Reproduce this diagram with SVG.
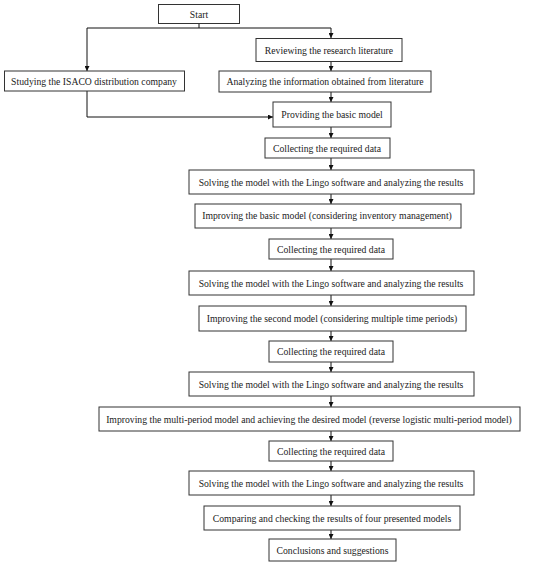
<svg xmlns="http://www.w3.org/2000/svg" width="550" height="564" viewBox="0 0 550 564">
<defs>
<style>
.box{fill:#fff;stroke:#333;stroke-width:1}
.t{font-family:"Liberation Serif","Times New Roman",serif;font-size:9.7px;fill:#222;text-anchor:middle;dominant-baseline:central}
.c{fill:none;stroke:#111;stroke-width:1}
</style>
<marker id="ah" markerUnits="userSpaceOnUse" markerWidth="5" markerHeight="5" viewBox="0 0 10 10" refX="10" refY="5" orient="auto">
<path d="M0,0 L10,5 L0,10 z" fill="#111"/>
</marker>
</defs>
<rect width="550" height="564" fill="#fff"/>
<g id="connectors">
<path class="c" d="M199,23 V28 M87,28 H331"/>
<path class="c" d="M87,28 V71" marker-end="url(#ah)"/>
<path class="c" d="M331,28 V38" marker-end="url(#ah)"/>
<path class="c" d="M331,61 V71" marker-end="url(#ah)"/>
<path class="c" d="M331,92 V102" marker-end="url(#ah)"/>
<path class="c" d="M87,91 V117 H273" marker-end="url(#ah)"/>
<path class="c" d="M331,127 V138" marker-end="url(#ah)"/>
<path class="c" d="M331,158 V170" marker-end="url(#ah)"/>
<path class="c" d="M331,194 V204" marker-end="url(#ah)"/>
<path class="c" d="M331,228 V239" marker-end="url(#ah)"/>
<path class="c" d="M331,259 V271" marker-end="url(#ah)"/>
<path class="c" d="M331,295 V306" marker-end="url(#ah)"/>
<path class="c" d="M331,331 V341" marker-end="url(#ah)"/>
<path class="c" d="M331,362 V372" marker-end="url(#ah)"/>
<path class="c" d="M331,396 V407" marker-end="url(#ah)"/>
<path class="c" d="M331,431 V441" marker-end="url(#ah)"/>
<path class="c" d="M331,461 V471" marker-end="url(#ah)"/>
<path class="c" d="M331,495 V506" marker-end="url(#ah)"/>
<path class="c" d="M331,530 V539" marker-end="url(#ah)"/>
</g>
<g id="start"><rect class="box" x="158.5" y="4.5" width="81" height="19"/><text class="t" x="199" y="14">Start</text></g>
<g id="reviewing"><rect class="box" x="256" y="38.5" width="146" height="23"/><text class="t" x="329" y="50">Reviewing the research literature</text></g>
<g id="studying"><rect class="box" x="4.5" y="71" width="180" height="20"/><text class="t" x="94" y="81">Studying the ISACO distribution company</text></g>
<g id="analyzing"><rect class="box" x="219" y="71" width="212" height="21"/><text class="t" x="325" y="81.5">Analyzing the information obtained from literature</text></g>
<g id="providing"><rect class="box" x="273" y="102" width="118" height="25"/><text class="t" x="332" y="114">Providing the basic model</text></g>
<g id="collect1"><rect class="box" x="265" y="138" width="125" height="20"/><text class="t" x="327" y="148">Collecting the required data</text></g>
<g id="solve1"><rect class="box" x="189" y="170" width="285" height="24"/><text class="t" x="331" y="182">Solving the model with the Lingo software and analyzing the results</text></g>
<g id="improve1"><rect class="box" x="195" y="204" width="266" height="24"/><text class="t" x="327" y="215.5">Improving the basic model (considering inventory management)</text></g>
<g id="collect2"><rect class="box" x="269" y="239" width="124" height="20"/><text class="t" x="331" y="249">Collecting the required data</text></g>
<g id="solve2"><rect class="box" x="189" y="271" width="285" height="24"/><text class="t" x="331" y="283">Solving the model with the Lingo software and analyzing the results</text></g>
<g id="improve2"><rect class="box" x="199" y="306" width="267" height="25"/><text class="t" x="332" y="318">Improving the second model (considering multiple time periods)</text></g>
<g id="collect3"><rect class="box" x="269" y="341" width="124" height="21"/><text class="t" x="331" y="351.5">Collecting the required data</text></g>
<g id="solve3"><rect class="box" x="189" y="372" width="285" height="24"/><text class="t" x="331" y="384">Solving the model with the Lingo software and analyzing the results</text></g>
<g id="improve3"><rect class="box" x="99" y="407" width="421" height="24"/><text class="t" x="309" y="419">Improving the multi-period model and achieving the desired model (reverse logistic multi-period model)</text></g>
<g id="collect4"><rect class="box" x="269" y="441" width="124" height="20"/><text class="t" x="331" y="451">Collecting the required data</text></g>
<g id="solve4"><rect class="box" x="189" y="471" width="285" height="24"/><text class="t" x="331" y="483">Solving the model with the Lingo software and analyzing the results</text></g>
<g id="compare"><rect class="box" x="204" y="506" width="256" height="24"/><text class="t" x="332" y="518">Comparing and checking the results of four presented models</text></g>
<g id="conclusions"><rect class="box" x="269" y="539" width="127" height="22"/><text class="t" x="332.5" y="550">Conclusions and suggestions</text></g>
</svg>
